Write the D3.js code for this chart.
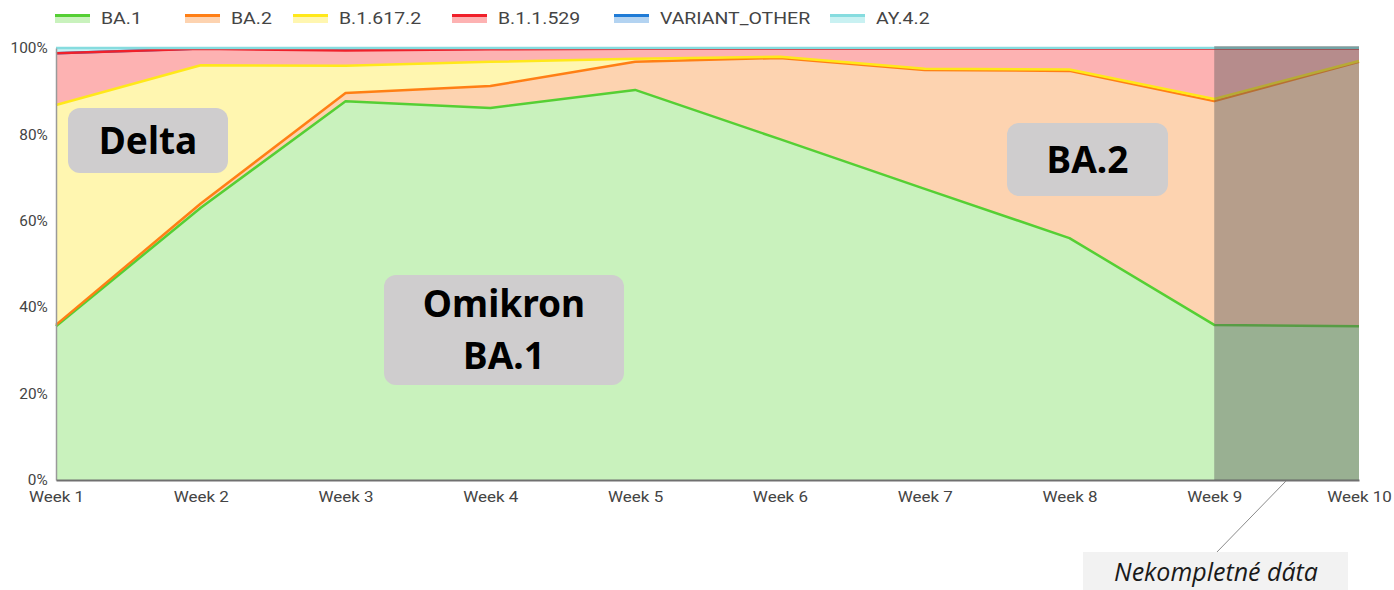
<!DOCTYPE html>
<html><head><meta charset="utf-8">
<script src="https://cdn.jsdelivr.net/npm/d3@7"></script>
<style>
html,body{margin:0;padding:0;background:#fff;}
svg{display:block;}
</style></head>
<body>
<svg id="chart" width="1394" height="590"></svg>
<script>
// ---- data ----
const weeks = ["Week 1","Week 2","Week 3","Week 4","Week 5","Week 6","Week 7","Week 8","Week 9","Week 10"];
const seriesNames = ["BA.1","BA.2","B.1.617.2","B.1.1.529","VARIANT_OTHER","AY.4.2"];
const ba1      = [35.6, 63.0, 87.7, 86.1, 90.3, 78.9, 67.4, 56.0, 35.9, 35.6];
const ba2      = [ 0.3,  1.0,  1.9,  5.1,  6.5, 18.8, 27.5, 38.7, 51.8, 61.2];
const b16172   = [50.9, 32.0,  6.3,  5.6,  0.7,  0.3,  0.3,  0.3,  0.5,  0.2];
const b11529   = [12.0,  3.8,  3.5,  2.9,  2.3,  1.8,  4.6,  4.8, 11.6,  2.8];
const variantOther = [0.0, 0.1, 0.3, 0.1, 0.1, 0.1, 0.1, 0.1, 0.1, 0.1];
const ay42     = [ 1.2,  0.1,  0.3,  0.2,  0.1,  0.1,  0.1,  0.1,  0.1,  0.1];
const yTicks = [0, 20, 40, 60, 80, 100];
const incompleteFrom = "Week 9", incompleteTo = "Week 10";
const labels = [
  {lines:["Delta"]},
  {lines:["BA.2"]},
  {lines:["Omikron","BA.1"]}
];
const incompleteLabel = "Nekompletné dáta";

// ---- styles ----
const lineColors = ["#55cf34","#ff7f15","#ffe81a","#f0202a","#1f7bd6","#86dcdf"];
const fillColors = ["#c9f2bd","#fdd3b0","#fff6b0","#fdb2b2","#b3d3f1","#c9f1f2"];
const lineDrawOrder = [0, 1, 2, 4, 3, 5];

const svg = d3.select("#chart");
const x = d3.scalePoint().domain(weeks).range([56, 1359]);
const y = d3.scaleLinear().domain([0, 100]).range([480, 48]);

const table = weeks.map((w, i) => ({
  week: w,
  "BA.1": ba1[i], "BA.2": ba2[i], "B.1.617.2": b16172[i],
  "B.1.1.529": b11529[i], "VARIANT_OTHER": variantOther[i], "AY.4.2": ay42[i]
}));
const stacked = d3.stack().keys(seriesNames)(table);

const area = d3.area().x(d => x(d.data.week)).y0(d => y(d[0])).y1(d => y(d[1]));
const line = d3.line().x(d => x(d.data.week)).y(d => y(d[1]));

const g = svg.append("g");
g.selectAll("path.area").data(stacked).join("path")
  .attr("class","area")
  .attr("d", area)
  .attr("fill", (d,i) => fillColors[i])
  .attr("stroke","none");
g.selectAll("path.line").data(lineDrawOrder.map(i => stacked[i])).join("path")
  .attr("class","line")
  .attr("d", line)
  .attr("fill","none")
  .attr("stroke", d => lineColors[d.index])
  .attr("stroke-width", 2.5)
  .attr("stroke-linejoin","round");

// axes
const yAxis = d3.axisLeft(y).tickValues(yTicks).tickFormat(d => d + "%").tickSize(0).tickPadding(4);
const ya = svg.append("g").attr("transform","translate(56,0)").call(yAxis);
ya.select(".domain").attr("stroke","#9a9a9a").attr("stroke-width",1.5);
ya.selectAll("text").attr("fill","#444").style("font-family","Roboto").style("font-size","14.5px")
  .attr("transform","translate(-4,0) scale(1.06,1)");

const xAxis = d3.axisBottom(x).tickSize(0).tickPadding(12);
const xa = svg.append("g").attr("transform","translate(0,480)").call(xAxis);
xa.select(".domain").attr("stroke","#707070").attr("stroke-width",2);
xa.selectAll("text").attr("fill","#444").style("font-family","Roboto").style("font-size","14.5px")
  .attr("transform","scale(1.17,1)");

// incomplete-data overlay
svg.append("rect")
  .attr("x", x(incompleteFrom)).attr("y", y(100) - 2)
  .attr("width", x(incompleteTo) - x(incompleteFrom))
  .attr("height", y(0) - y(100) + 2)
  .attr("fill", "rgb(90,90,90)").attr("fill-opacity", 0.44);

// label boxes
const boxes = [
  {x:68, y:108, w:160, h:65},
  {x:1007, y:123, w:161, h:73},
  {x:384, y:275, w:240, h:110}
];
labels.forEach((lb, i) => {
  const b = boxes[i];
  svg.append("rect").attr("x", b.x).attr("y", b.y).attr("width", b.w).attr("height", b.h)
    .attr("rx", 12).attr("fill", "#cfcdce");
  const n = lb.lines.length, lh = 52;
  lb.lines.forEach((t, j) => {
    svg.append("text")
      .attr("x", b.x + b.w/2)
      .attr("y", b.y + b.h/2 + (j - (n-1)/2) * lh)
      .attr("dy", "0.36em")
      .attr("text-anchor","middle")
      .style("font-family","'Noto Sans'").style("font-weight","700").style("font-size","37px")
      .attr("fill","#000").text(t);
  });
});

// incomplete annotation
svg.append("line").attr("x1", 1286).attr("y1", 481).attr("x2", 1216).attr("y2", 553)
  .attr("stroke","#8a8a8a").attr("stroke-width",1);
svg.append("rect").attr("x",1083).attr("y",552).attr("width",265).attr("height",40).attr("fill","#f2f2f2");
svg.append("text").attr("x",1216).attr("y",581).attr("text-anchor","middle")
  .style("font-family","'Open Sans'").style("font-style","italic").style("font-size","25px")
  .attr("fill","#1a1a1a").text(incompleteLabel);

// legend
const legendX = [55, 185, 293, 452, 614, 830];
const lg = svg.append("g");
seriesNames.forEach((s, i) => {
  const gx = legendX[i];
  lg.append("rect").attr("x", gx).attr("y", 16).attr("width", 35).attr("height", 7).attr("fill", fillColors[i]);
  lg.append("rect").attr("x", gx).attr("y", 14).attr("width", 35).attr("height", 3).attr("fill", lineColors[i]);
  lg.append("text")
    .attr("transform", `translate(${gx + 46},18) scale(1.18,1)`)
    .attr("dy","0.35em")
    .style("font-family","Roboto").style("font-size","16.5px").attr("fill","#444").text(s);
});
</script>
</body></html>
